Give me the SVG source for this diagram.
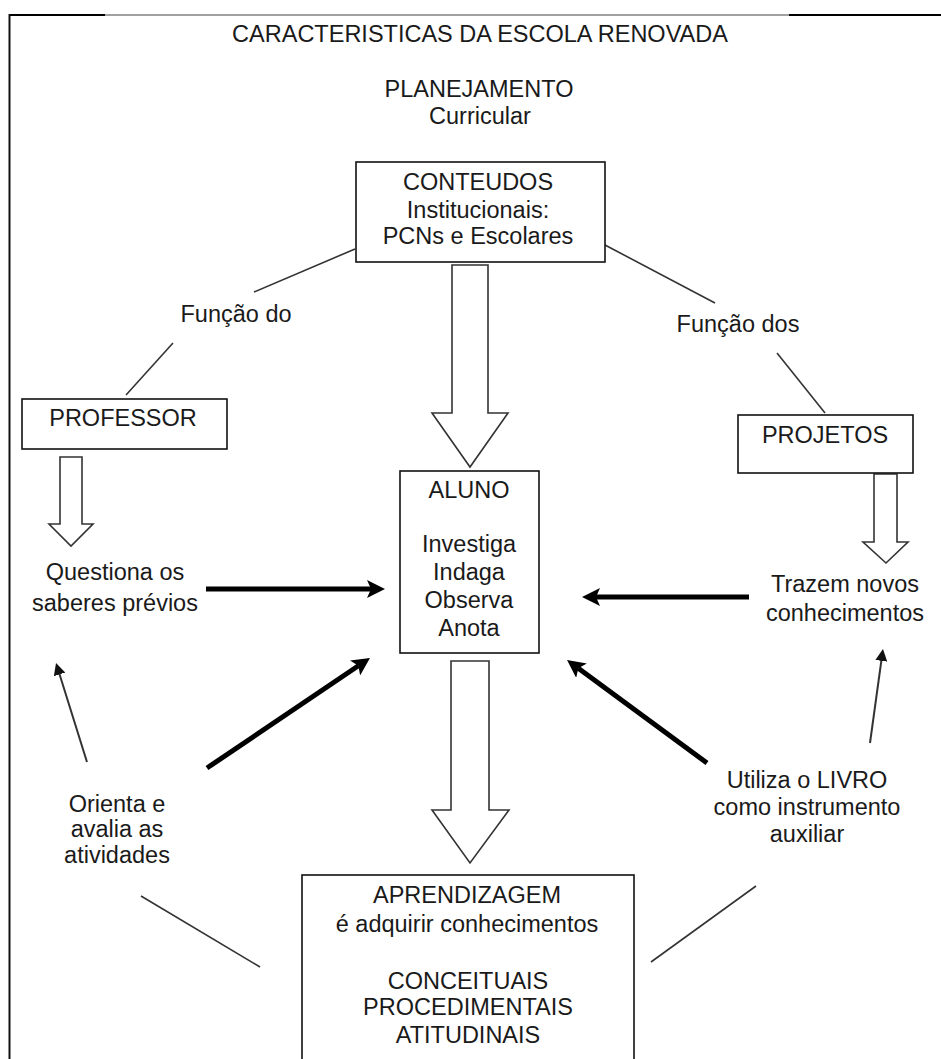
<svg xmlns="http://www.w3.org/2000/svg" width="941" height="1059" viewBox="0 0 941 1059">
<style>
text{font-family:"Liberation Sans",Arial,sans-serif;font-size:23.5px;fill:#1a1a1a;text-anchor:middle}
.box{fill:#fff;stroke:#111;stroke-width:1.6}
.thin{stroke:#333;stroke-width:1.6;fill:none}
.hollow{fill:#fff;stroke:#333;stroke-width:1.6;stroke-linejoin:miter}
.thick{stroke:#000;stroke-width:5;fill:none}
.thinarr{stroke:#333;stroke-width:2;fill:none}
</style>
<defs>
<marker id="hd" markerUnits="userSpaceOnUse" viewBox="0 0 18 18" markerWidth="18" markerHeight="18" refX="4" refY="9" orient="auto">
<path d="M0,0 L18,9 L0,18 L4,9 z" fill="#000"/>
</marker>
<marker id="hs" markerUnits="userSpaceOnUse" viewBox="0 0 12 12" markerWidth="12" markerHeight="12" refX="2" refY="6" orient="auto">
<path d="M0,0 L12,6 L0,12 z" fill="#111"/>
</marker>
</defs>
<rect width="941" height="1059" fill="#fff"/>
<g id="frame">
<line x1="9" y1="15" x2="105" y2="15" stroke="#000" stroke-width="2"/>
<line x1="105" y1="15" x2="789" y2="15" stroke="#444" stroke-width="1"/>
<line x1="789" y1="15" x2="941" y2="15" stroke="#000" stroke-width="2"/>
<line x1="9.5" y1="14" x2="9.5" y2="1059" stroke="#111" stroke-width="2"/>
</g>
<g id="title">
<text x="480" y="42">CARACTERISTICAS DA ESCOLA RENOVADA</text>
<text x="479" y="97">PLANEJAMENTO</text>
<text x="480" y="124">Curricular</text>
</g>
<g id="connectors">
<line class="thin" x1="355" y1="249" x2="254" y2="292"/>
<line class="thin" x1="173" y1="343" x2="126" y2="395"/>
<line class="thin" x1="605" y1="245" x2="715" y2="303"/>
<line class="thin" x1="777" y1="353" x2="825" y2="413"/>
<line class="thin" x1="141" y1="896" x2="260" y2="967"/>
<line class="thin" x1="756" y1="886" x2="651" y2="962"/>
<polygon class="hollow" points="452,265 488,265 488,413 508,413 470,467 432,413 452,413"/>
<polygon class="hollow" points="451,661 489,661 489,810 509,810 470,863 432,810 451,810"/>
<polygon class="hollow" points="60,457 82,457 82,524 93,524 71,546 49,524 60,524"/>
<polygon class="hollow" points="874,474 897,474 897,542 908,542 886,563 863,542 874,542"/>
<line class="thick" x1="206" y1="589" x2="371" y2="589" marker-end="url(#hd)"/>
<line class="thick" x1="749" y1="597" x2="596" y2="597" marker-end="url(#hd)"/>
<line class="thick" x1="207" y1="768" x2="358.4" y2="665.8" marker-end="url(#hd)"/>
<line class="thick" x1="707" y1="763" x2="578.3" y2="668.3" marker-end="url(#hd)"/>
<line class="thinarr" x1="87" y1="762" x2="59" y2="672.5" marker-end="url(#hs)"/>
<line class="thinarr" x1="870" y1="743" x2="881.6" y2="658.9" marker-end="url(#hs)"/>
</g>
<g id="conteudos">
<rect class="box" x="356" y="162" width="249" height="100"/>
<text x="478" y="190">CONTEUDOS</text>
<text x="478" y="218">Institucionais:</text>
<text x="478" y="244">PCNs e Escolares</text>
</g>
<g id="funcao-do"><text x="236" y="322">Função do</text></g>
<g id="funcao-dos"><text x="738" y="332">Função dos</text></g>
<g id="professor">
<rect class="box" x="22" y="399" width="205" height="50"/>
<text x="123" y="426">PROFESSOR</text>
</g>
<g id="projetos">
<rect class="box" x="738" y="415" width="175" height="58"/>
<text x="825" y="443">PROJETOS</text>
</g>
<g id="aluno">
<rect class="box" x="400" y="471" width="139" height="182"/>
<text x="469" y="498">ALUNO</text>
<text x="469" y="552">Investiga</text>
<text x="469" y="580">Indaga</text>
<text x="469" y="608">Observa</text>
<text x="469" y="636">Anota</text>
</g>
<g id="questiona">
<text x="115" y="580">Questiona os</text>
<text x="115" y="611">saberes prévios</text>
</g>
<g id="trazem">
<text x="845" y="592">Trazem novos</text>
<text x="845" y="621">conhecimentos</text>
</g>
<g id="orienta">
<text x="117" y="812">Orienta e</text>
<text x="117" y="837">avalia as</text>
<text x="117" y="863">atividades</text>
</g>
<g id="utiliza">
<text x="807" y="788">Utiliza o LIVRO</text>
<text x="807" y="815">como instrumento</text>
<text x="807" y="842">auxiliar</text>
</g>
<g id="aprendizagem">
<rect class="box" x="302" y="875" width="332" height="200"/>
<text x="467" y="903">APRENDIZAGEM</text>
<text x="467" y="932">é adquirir conhecimentos</text>
<text x="468" y="989">CONCEITUAIS</text>
<text x="468" y="1015">PROCEDIMENTAIS</text>
<text x="468" y="1043">ATITUDINAIS</text>
</g>
</svg>
